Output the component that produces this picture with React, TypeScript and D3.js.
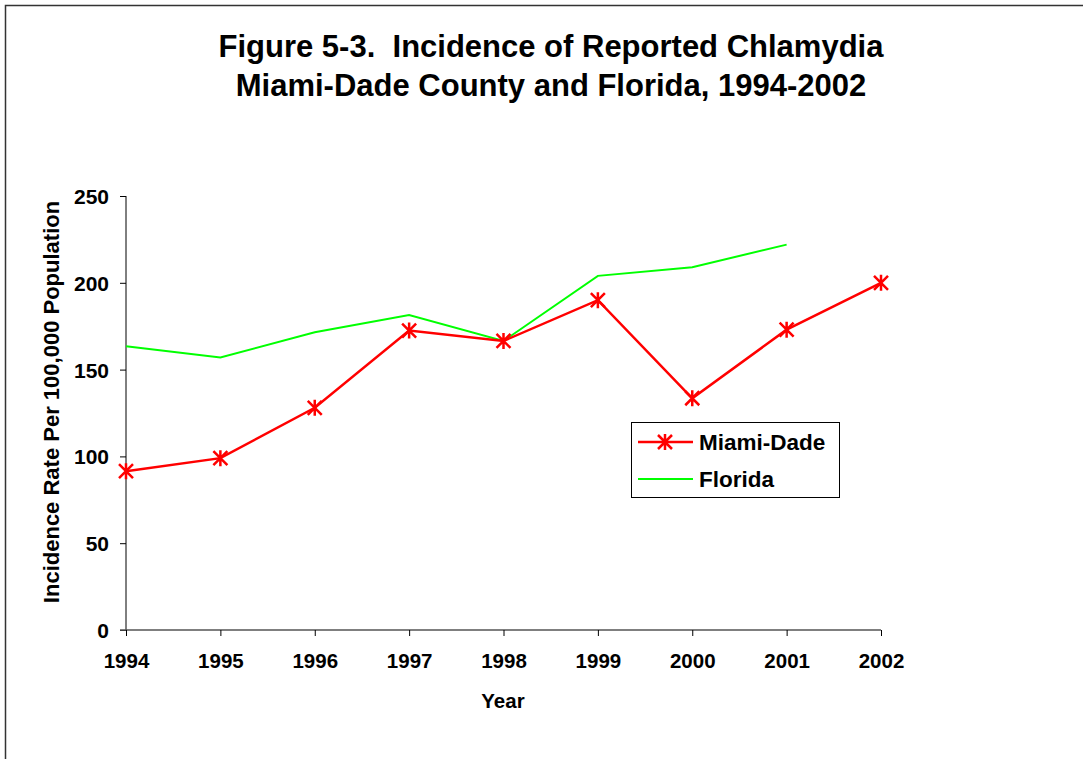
import React, { useEffect, useRef } from 'react';
import * as d3 from 'd3';

const years = [1994, 1995, 1996, 1997, 1998, 1999, 2000, 2001, 2002];
const miamiDade = [91.5, 99, 128, 172.5, 166.5, 190, 133.5, 173, 200];
const florida = [163.5, 157, 171.5, 181.5, 166.5, 204, 209, 222];
const yTicks = [0, 50, 100, 150, 200, 250];
const titleLines = ['Figure 5-3.  Incidence of Reported Chlamydia', 'Miami-Dade County and Florida, 1994-2002'];

const FONT = 'Liberation Sans, Arial, Helvetica, sans-serif';

export default function App() {
  const ref = useRef<SVGSVGElement>(null);

  useEffect(() => {
    const svg = d3.select(ref.current);
    svg.selectAll('*').remove();

    const x = d3.scaleLinear().domain([1994, 2002]).range([126, 881]);
    const y = d3.scaleLinear().domain([0, 250]).range([630, 196]);

    // outer frame
    svg.append('rect')
      .attr('x', 5.5).attr('y', 5.5)
      .attr('width', 1100).attr('height', 800)
      .attr('fill', 'white').attr('stroke', '#333').attr('stroke-width', 1.5);

    // title
    svg.append('g').selectAll('text').data(titleLines).join('text')
      .attr('x', 551).attr('y', (d, i) => 57 + i * 39)
      .attr('text-anchor', 'middle')
      .style('white-space', 'pre')
      .attr('font-family', FONT).attr('font-weight', 'bold').attr('font-size', 31)
      .text(d => d);

    // y axis
    const yAxis = svg.append('g')
      .attr('transform', 'translate(126,0)')
      .call(d3.axisLeft(y).tickValues(yTicks).tickSize(6).tickPadding(11).tickFormat(d3.format('d')));
    yAxis.select('.domain').attr('stroke', '#000').attr('d', `M0,${y(250)}V${y(0)}`);
    yAxis.selectAll('line').attr('stroke', '#000');
    yAxis.selectAll('text').attr('font-family', FONT).attr('font-weight', 'bold').attr('font-size', 21).attr('fill', '#000').attr('dy', '0.36em');

    // x axis
    const xAxis = svg.append('g')
      .attr('transform', 'translate(0,630)')
      .call(d3.axisBottom(x).tickValues(years).tickSize(6).tickPadding(17).tickFormat(d3.format('d')));
    xAxis.select('.domain').attr('stroke', '#555').attr('stroke-width', 1.5).attr('d', `M120,0H${x(2002)}`);
    xAxis.selectAll('line').attr('stroke', '#000');
    xAxis.selectAll('text').attr('font-family', FONT).attr('font-weight', 'bold').attr('font-size', 20.5).attr('fill', '#000');

    // axis titles
    svg.append('text')
      .attr('x', 503).attr('y', 708)
      .attr('text-anchor', 'middle')
      .attr('font-family', FONT).attr('font-weight', 'bold').attr('font-size', 20.5)
      .text('Year');
    svg.append('text')
      .attr('transform', 'translate(59,402) rotate(-90)')
      .attr('text-anchor', 'middle')
      .attr('font-family', FONT).attr('font-weight', 'bold').attr('font-size', 22)
      .text('Incidence Rate Per 100,000 Population');

    const line = d3.line<number>()
      .x((d, i) => x(years[i]))
      .y(d => y(d));

    svg.append('path')
      .datum(florida)
      .attr('fill', 'none').attr('stroke', '#00ff00').attr('stroke-width', 2)
      .attr('d', line);

    svg.append('path')
      .datum(miamiDade)
      .attr('fill', 'none').attr('stroke', '#ff0000').attr('stroke-width', 2.5)
      .attr('d', line);

    const star = (g: any, cx: number, cy: number) => {
      const r = 7;
      g.append('path')
        .attr('d', `M${cx - r},${cy - r}L${cx + r},${cy + r}M${cx - r},${cy + r}L${cx + r},${cy - r}M${cx},${cy - r - 1}L${cx},${cy + r + 1}`)
        .attr('stroke', '#ff0000').attr('stroke-width', 2.5).attr('fill', 'none');
    };

    const markers = svg.append('g');
    miamiDade.forEach((v, i) => star(markers, x(years[i]), y(v)));

    // legend
    const lg = svg.append('g');
    lg.append('rect')
      .attr('x', 631.5).attr('y', 422.5).attr('width', 208).attr('height', 75)
      .attr('fill', 'white').attr('stroke', '#000').attr('stroke-width', 1);
    const legendItems = [
      { name: 'Miami-Dade', color: '#ff0000', width: 2.5 },
      { name: 'Florida', color: '#00ff00', width: 2 },
    ];
    legendItems.forEach((it, i) => {
      const cy = 442 + i * 37;
      lg.append('line')
        .attr('x1', 638).attr('x2', 693).attr('y1', cy).attr('y2', cy)
        .attr('stroke', it.color).attr('stroke-width', it.width);
      if (i === 0) star(lg, 665, cy);
      lg.append('text')
        .attr('x', 699).attr('y', cy + 8)
        .attr('font-family', FONT).attr('font-weight', 'bold').attr('font-size', 22.5)
        .text(it.name);
    });
  }, []);

  return (
    <svg
      ref={ref}
      width={1083}
      height={759}
      style={{ position: 'absolute', left: 0, top: 0, display: 'block', background: 'white' }}
    />
  );
}
